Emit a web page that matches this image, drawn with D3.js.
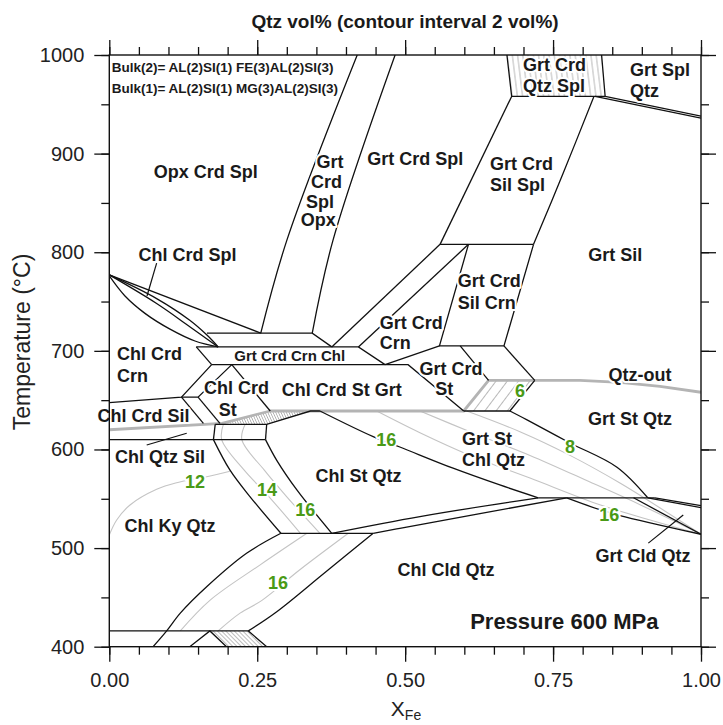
<!DOCTYPE html>
<html><head><meta charset="utf-8">
<script src="https://cdn.jsdelivr.net/npm/d3@7"></script>
<style>
html,body{margin:0;padding:0;background:#fff;}
svg{display:block;font-family:"Liberation Sans",Arial,Helvetica,sans-serif;}
</style></head><body>
<svg id="chart" width="723" height="725"></svg>
<script>
// ---------- axis data ----------
const xTicks = [0, 0.25, 0.5, 0.75, 1];
const xTickLabels = ["0.00", "0.25", "0.50", "0.75", "1.00"];
const yTicks = [400, 500, 600, 700, 800, 900, 1000];
const yTickLabels = ["400", "500", "600", "700", "800", "900", "1000"];

// ---------- field boundaries (XFe, T °C) ----------
const straightBoundaries = [
  [[0.165,718],[0.343,718],[0.376,704]],
  [[0.147,704],[0.421,704],[0.466,686]],
  [[0.376,704],[0.559,808]],
  [[0.421,704],[0.607,808]],
  [[0.559,808],[0.717,808]],
  [[0.680,958],[0.559,808]],
  [[0.672,1000],[0.680,958],[0.838,958],[0.832,1000]],
  [[0.821,958],[1.0,936]],
  [[0.838,958],[1.0,938]],
  [[0.607,808],[0.558,705],[0.667,705],[0.717,808]],
  [[0.466,686],[0.558,705]],
  [[0.173,686],[0.505,686],[0.599,639]],
  [[0.147,704],[0.173,686]],
  [[0.593,705],[0.641,670]],
  [[0.667,705],[0.719,670]],
  [[0.719,670],[0.677,639],[0.599,639]],
  [[0,777],[0.256,718]],
  [[0,647.4],[0.122,653],[0.173,686]],
  [[0.122,653],[0.150,653],[0.207,686]],
  [[0.122,653],[0.159,626.5]],
  [[0.150,653],[0.187,626.5]],
  [[0.207,686],[0.272,639]],
  [[0.179,625.5],[0.266,625.5],[0.340,639],[0.356,639]],
  [[0.179,625.5],[0.176,610]],
  [[0.266,625.5],[0.264,610]],
  [[0,610],[0.264,610]],
  [[0.290,515],[0.446,515]],
  [[0.725,551],[0.922,551]],
  [[0.886,551],[1.0,514]],
  [[0.910,551],[1.0,541]],
  [[0.922,551],[1.0,543]],
  [[0,416],[0.235,416],[0.266,400]],
  [[0.136,400],[0.170,416],[0.198,400]]
];
const curvedBoundaries = [
  [[0.419,1000],[0.300,812],[0.256,718]],
  [[0.483,1000],[0.378,812],[0.343,718]],
  [[0.819,958],[0.767,880],[0.717,808]],
  [[0.677,639],[0.706,630],[0.7786,606.6],[0.858,582],[0.910,551]],
  [[0,777],[0.080,753],[0.136,731],[0.165,716],[0.184,704]],
  [[0,777],[0.080,748],[0.136,724.5],[0.184,704]],
  [[0,776],[0.0265,755.6],[0.0603,738],[0.1026,722],[0.1448,710],[0.184,704]],
  [[0.176,610],[0.204,579],[0.238,552],[0.290,515]],
  [[0.264,610],[0.283,589],[0.317,559],[0.376,515]],
  [[0.376,515],[0.525,532],[0.725,551]],
  [[0.446,515],[0.491,520],[0.773,551]],
  [[0.356,639],[0.446,613],[0.491,602.5],[0.581,581],[0.660,564],[0.725,551]],
  [[0.773,551],[0.829,539],[0.863,533],[1.0,514]],
  [[0.290,515],[0.232,494.7],[0.165,461],[0.120,434],[0.097,416],[0.074,400]],
  [[0.446,515],[0.362,474],[0.283,435.5],[0.235,416]]
];
// Qtz-out line
const qtzOut = [[0,620],[0.1905,626.5],[0.272,639],[0.599,639],[0.641,670],[0.719,670],[0.7955,670],[0.863,668],[0.9307,664],[1.0,658]];
// Qtz vol% contours (grey)
const contours = [
  [[0,513.3],[0.0125,528.5],[0.035,543.7],[0.080,559.6],[0.114,566.3],[0.1646,572.4],[0.204,578]],
  [[0.193,626],[0.190,610],[0.228,579],[0.270,552],[0.323,515]],
  [[0.230,626],[0.224,610],[0.262,579],[0.300,552],[0.356,515]],
  [[0.334,515],[0.255,483],[0.170,447],[0.120,416]],
  [[0.404,515],[0.322,478],[0.258,447],[0.221,434],[0.184,416]],
  [[0.452,639],[0.525,617],[0.6096,594],[0.711,571],[0.829,544],[0.914,528.5],[1.0,514]],
  [[0.525,639],[0.6096,618],[0.711,594],[0.8124,567],[0.897,544],[1.0,514]],
  [[0.604,639],[0.694,618],[0.7786,594],[0.863,566],[0.931,540.6],[1.0,514]]
];
// narrow fields shown hatched
const hatchedFields = [
  {pts:[[0.672,1000],[0.680,958],[0.838,958],[0.832,1000]], p:"hV"},
  {pts:[[0.641,670],[0.719,670],[0.677,639],[0.599,639]], p:"h6"},
  {pts:[[0.1905,626.5],[0.272,639],[0.356,639],[0.340,639],[0.266,625.5]], p:"hW"},
  {pts:[[0.170,416],[0.235,416],[0.266,400],[0.198,400]], p:"hB"}
];
const pointers = [
  [[0.080,789],[0.0637,755.6]],
  [[0.0632,604.5],[0.1308,616.4]],
  [[0.911,505],[0.970,533.5]]
];
// field labels
const centeredLabels = [
  ["Opx Crd Spl",0.163,881],
  ["Grt",0.373,891.7],["Crd",0.367,871.5],["Spl",0.356,851.2],["Opx",0.353,832.7],
  ["Grt Crd Spl",0.517,894.2],
  ["Grt Sil",0.855,797.7],
  ["Chl Crd Spl",0.132,797.7],
  ["Chl Crd",0.215,662.8],["St",0.2,640.5],
  ["Chl Crd St Grt",0.393,660],
  ["Grt Crd",0.5775,682],["St",0.566,661.8],
  ["Chl Crd Sil",0.058,634.4],
  ["Chl Qtz Sil",0.0857,592.4],
  ["Chl St Qtz",0.421,573.6],
  ["Chl Ky Qtz",0.1026,521.9],
  ["Grt St Qtz",0.88,630.4],
  ["Chl Cld Qtz",0.569,477.3],
  ["Grt Cld Qtz",0.902,492],
  ["Qtz-out",0.897,675.5]
];
const leftLabels = [
  ["Grt Crd",0.6435,889],["Sil Spl",0.6435,868.2],
  ["Grt Crd",0.699,989.9],["Qtz Spl",0.699,968.5],
  ["Grt Spl",0.88,984.3],["Qtz",0.88,964],
  ["Grt Crd",0.589,771.3],["Sil Crn",0.589,749],
  ["Grt Crd",0.457,728.7],["Crn",0.457,707.5],
  ["Chl Crd",0.013,696.3],["Crn",0.013,675],
  ["Grt St",0.596,611.1],["Chl Qtz",0.596,589.3]
];
const smallLabels = [["Grt Crd Crn Chl",0.305,694.8]];
const contourLabels = [
  ["6",0.694,658.8],["8",0.7785,602.5],["16",0.468,609.6],["12",0.145,567.5],
  ["14",0.2665,558.9],["16",0.331,539.1],["16",0.285,465.1],["16",0.845,533.5]
];
const bulkNotes = [
  ["Bulk(2)= AL(2)SI(1) FE(3)AL(2)SI(3)",0.004,987.5],
  ["Bulk(1)= AL(2)SI(1) MG(3)AL(2)SI(3)",0.004,966.2]
];
const pressureNote = ["Pressure 600 MPa",0.769,426];

// ---------- drawing ----------
const svg = d3.select("#chart");
const x = d3.scaleLinear().domain([0,1]).range([109.3,701]);
const y = d3.scaleLinear().domain([400,1000]).range([646.7,55]);
const lin = d3.line().x(d=>x(d[0])).y(d=>y(d[1]));
const smooth = d3.line().x(d=>x(d[0])).y(d=>y(d[1])).curve(d3.curveCatmullRom.alpha(0.5));

const defs = svg.append("defs");
defs.append("clipPath").attr("id","plot").append("rect")
  .attr("x",x(0)).attr("y",y(1000)).attr("width",x(1)-x(0)).attr("height",y(400)-y(1000));
function hatch(id, sp, ang, col, w){
  const p = defs.append("pattern").attr("id",id).attr("patternUnits","userSpaceOnUse")
    .attr("width",sp).attr("height",sp).attr("patternTransform",`rotate(${ang})`);
  p.append("line").attr("x1",sp/2).attr("x2",sp/2).attr("y1",-1).attr("y2",sp+1)
    .attr("stroke",col).attr("stroke-width",w);
}
hatch("hV",5.2,-7,"#a8a8a8",0.8);
hatch("h6",9,37,"#b0b0b0",0.9);
hatch("hW",2.4,-25,"#a0a0a0",0.7);
hatch("hB",3,-45,"#a0a0a0",0.7);

const plot = svg.append("g").attr("clip-path","url(#plot)");
plot.selectAll("path.h").data(hatchedFields).join("path").attr("class","h")
  .attr("d",d=>lin(d.pts)+"Z").attr("fill",d=>`url(#${d.p})`).attr("stroke","none");
plot.selectAll("path.c").data(contours).join("path").attr("class","c")
  .attr("d",smooth).attr("fill","none").attr("stroke","#c4c4c4").attr("stroke-width",1.1);
plot.append("path").attr("d",lin(qtzOut)).attr("fill","none")
  .attr("stroke","#b4b4b4").attr("stroke-width",2.8).attr("stroke-linejoin","round");
plot.selectAll("path.s").data(straightBoundaries).join("path").attr("class","s")
  .attr("d",lin).attr("fill","none").attr("stroke","#111").attr("stroke-width",1.3);
plot.selectAll("path.k").data(curvedBoundaries).join("path").attr("class","k")
  .attr("d",smooth).attr("fill","none").attr("stroke","#111").attr("stroke-width",1.3);
plot.selectAll("path.p").data(pointers).join("path").attr("class","p")
  .attr("d",lin).attr("fill","none").attr("stroke","#111").attr("stroke-width",1.2);

function labels(data, size, anchor, color, weight, halo){
  svg.append("g").selectAll("text").data(data).join("text")
    .attr("x",d=>x(d[1])).attr("y",d=>y(d[2]))
    .attr("text-anchor",anchor).attr("dominant-baseline","central")
    .attr("font-size",size).attr("font-weight",weight).attr("fill",color)
    .attr("stroke",halo?"#fff":"none").attr("stroke-width",halo).attr("stroke-linejoin","round")
    .attr("paint-order","stroke")
    .text(d=>d[0]);
}
labels(centeredLabels,18,"middle","#1a1a1a","bold",4);
labels(leftLabels,18,"start","#1a1a1a","bold",4);
labels(smallLabels,15,"middle","#1a1a1a","bold",3);
labels(contourLabels,18,"middle","#4a9a16","bold",4);
labels(bulkNotes,13.5,"start","#1a1a1a","bold",0);
labels([pressureNote],22,"middle","#1a1a1a","bold",0);

// ---------- axes ----------
const fmtX = (d)=>xTickLabels[xTicks.indexOf(d)];
const fmtY = (d)=>yTickLabels[yTicks.indexOf(d)];
const minorX = x.ticks(20), minorY = y.ticks(12);
function ax(gen, tr, vals, size, fmt, pad){
  const g = svg.append("g").attr("transform",tr)
    .call(gen.tickValues(vals).tickSize(size).tickSizeOuter(0).tickPadding(pad).tickFormat(fmt));
  g.select(".domain").remove();
  g.selectAll("line").attr("stroke","#111").attr("stroke-width",1.3);
  g.selectAll("text").attr("font-size",20).attr("fill","#222").attr("font-family",null);
  return g;
}
ax(d3.axisBottom(x),`translate(0,${y(400)})`,minorX,8,()=>"",0);
ax(d3.axisBottom(x),`translate(0,${y(400)})`,xTicks,15,fmtX,11);
ax(d3.axisTop(x),`translate(0,${y(1000)})`,minorX,8,()=>"",0);
ax(d3.axisTop(x),`translate(0,${y(1000)})`,xTicks,15,()=>"",0);
ax(d3.axisLeft(y),`translate(${x(0)},0)`,minorY,8,()=>"",0);
ax(d3.axisLeft(y),`translate(${x(0)},0)`,yTicks,15,fmtY,10);
ax(d3.axisRight(y),`translate(${x(1)},0)`,minorY,8,()=>"",0);
ax(d3.axisRight(y),`translate(${x(1)},0)`,yTicks,15,()=>"",0);
svg.append("rect").attr("x",x(0)).attr("y",y(1000)).attr("width",x(1)-x(0)).attr("height",y(400)-y(1000))
  .attr("fill","none").attr("stroke","#111").attr("stroke-width",1.4);

// titles
svg.append("text").attr("x",405).attr("y",28).attr("text-anchor","middle")
  .attr("font-size",19).attr("font-weight","bold").attr("fill","#1a1a1a")
  .text("Qtz vol% (contour interval 2 vol%)");
svg.append("text").attr("transform","translate(30,342) rotate(-90)").attr("text-anchor","middle")
  .attr("font-size",23).attr("fill","#222").text("Temperature (°C)");
const xt = svg.append("text").attr("x",406).attr("y",716).attr("text-anchor","middle")
  .attr("font-size",21).attr("fill","#222");
xt.append("tspan").text("X");
xt.append("tspan").attr("font-size",14).attr("dy",4).text("Fe");
</script>
</body></html>
